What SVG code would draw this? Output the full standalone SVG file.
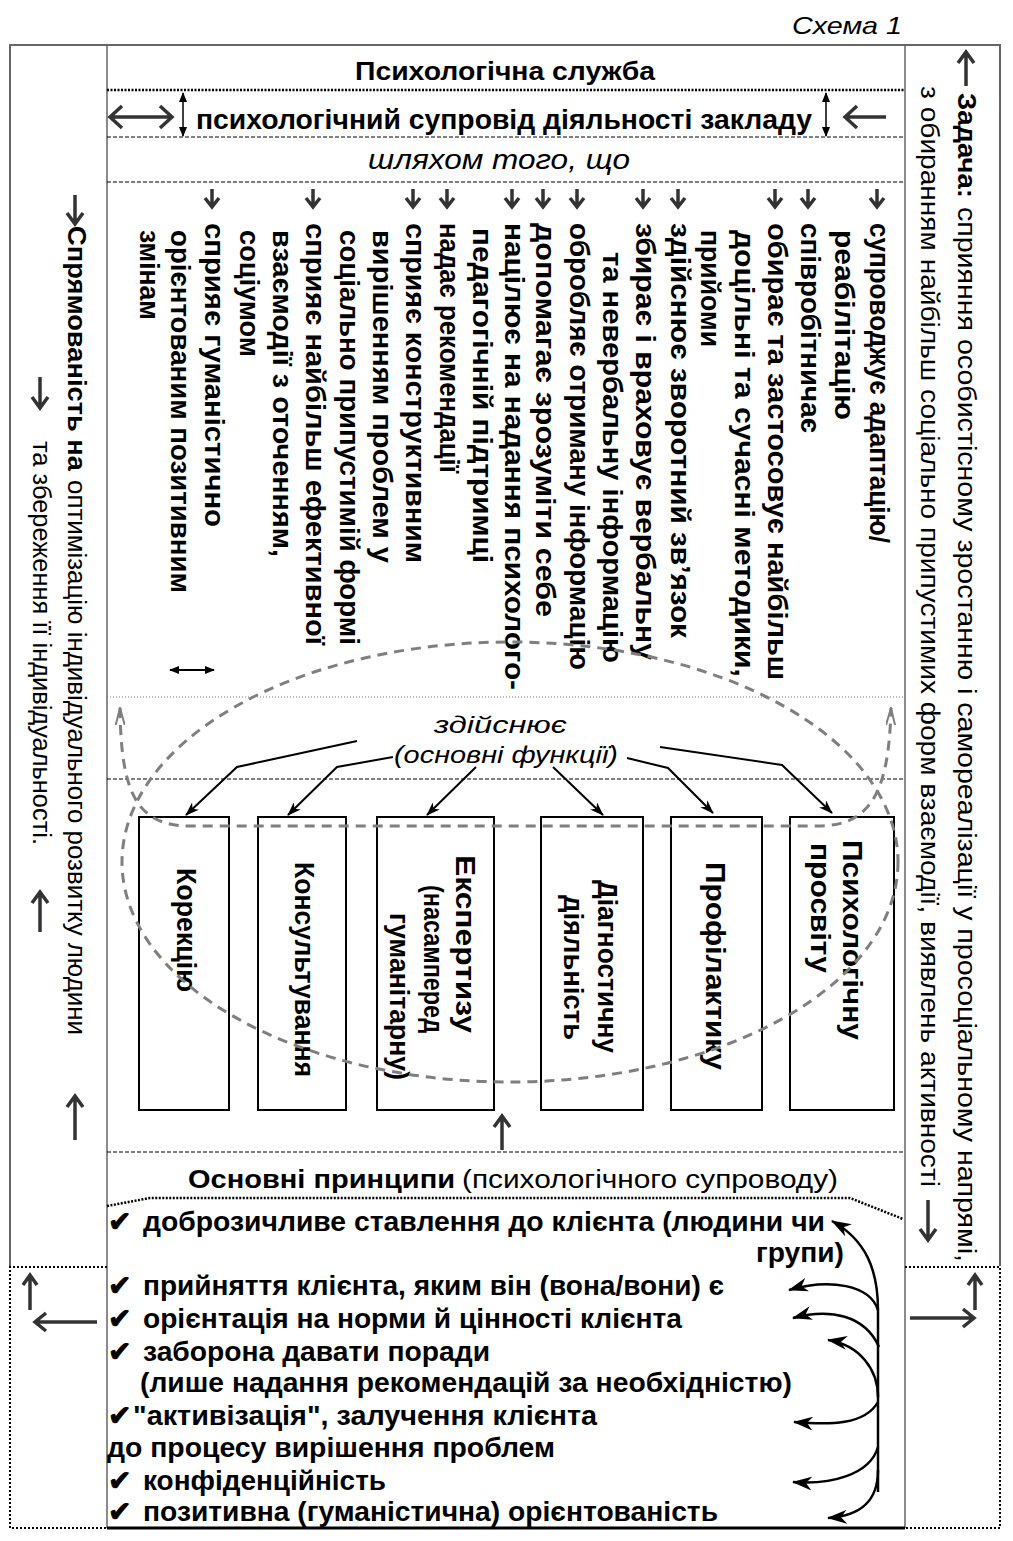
<svg xmlns="http://www.w3.org/2000/svg" width="1013" height="1541" viewBox="0 0 1013 1541">
<defs>
<style>
.t{font-family:"Liberation Sans",Arial,sans-serif;fill:#000}
.b{font-weight:bold}
.i{font-style:italic}
.ck{font-family:"DejaVu Sans",sans-serif;font-size:28px;fill:#000;stroke:#000;stroke-width:1}
.frame{fill:none;stroke:#666;stroke-width:2}
.vl{stroke:#666;stroke-width:1.5;fill:none}
.dash{stroke:#000;stroke-width:1;stroke-dasharray:4 2;fill:none}
.dot{stroke:#000;stroke-width:2.5;stroke-dasharray:2 1.5;fill:none}
.fdot{stroke:#777;stroke-width:1;stroke-dasharray:1 2;fill:none}
.bdot{stroke:#000;stroke-width:2;stroke-dasharray:2 2;fill:none}
.heavy{fill:none;stroke:#333;stroke-width:3.5;stroke-linejoin:miter}
.conn{fill:none;stroke:#000;stroke-width:2}
.thin{fill:none;stroke:#000;stroke-width:1.5}
.pa{fill:none;stroke:#000;stroke-width:2.5}
.gd{fill:none;stroke:#7f7f7f;stroke-width:3;stroke-dasharray:10 7}
.box{fill:#fff;stroke:#000;stroke-width:2}
</style>
<marker id="ah" viewBox="0 0 14 10" refX="13" refY="5" markerWidth="14" markerHeight="10" markerUnits="userSpaceOnUse" orient="auto">
<path d="M0,0 L14,5 L0,10 L4,5 z" fill="#000"/>
</marker>
<marker id="ahb" viewBox="0 0 20 14" refX="19" refY="7" markerWidth="20" markerHeight="14" markerUnits="userSpaceOnUse" orient="auto">
<path d="M0,0 L20,7 L0,14 L6,7 z" fill="#000"/>
</marker>
<marker id="ahd" viewBox="0 0 10 8" refX="9" refY="4" markerWidth="10" markerHeight="8" markerUnits="userSpaceOnUse" orient="auto-start-reverse">
<path d="M0,0 L10,4 L0,8 z" fill="#000"/>
</marker>
<marker id="ga" viewBox="0 0 18 10" refX="17" refY="5" markerWidth="18" markerHeight="10" markerUnits="userSpaceOnUse" orient="auto-start-reverse">
<path d="M0,0.5 L17,5 L0,9.5" fill="none" stroke="#7f7f7f" stroke-width="2"/>
</marker>
</defs>
<rect width="1013" height="1541" fill="#fff"/>

<g id="title">
<text class="t i" x="792" y="34" font-size="24" textLength="110" lengthAdjust="spacingAndGlyphs">Схема 1</text>
</g>

<g id="frame">
<path class="frame" d="M10,1266 L10,45 L1000,45 L1000,1266"/>
<path class="vl" d="M107,45 L107,1528 M905,45 L905,1528"/>
<path class="bdot" d="M107,1267 L10,1267 L10,1528 L107,1528"/>
<path class="bdot" d="M905,1267 L1000,1267 L1000,1528 L905,1528"/>
<path d="M107,1528 L905,1528" stroke="#000" stroke-width="3"/>
<path class="dot" d="M107,90 L905,90"/>
<path class="dash" d="M107,137 L905,137"/>
<path class="dash" d="M107,182 L905,182"/>
<path class="fdot" d="M107,697 L905,697"/>
<path class="dash" d="M107,779 L905,779"/>
<path class="dash" d="M107,1152 L905,1152"/>
<path class="dot" d="M107,1206 L150,1198 L850,1198 L903,1219"/>
</g>

<g id="service">
<text class="t b" x="355" y="80" font-size="26" textLength="300" lengthAdjust="spacingAndGlyphs">Психологічна служба</text>
</g>

<g id="support">
<text class="t b" x="196" y="129" font-size="28" textLength="616" lengthAdjust="spacingAndGlyphs">психологічний супровід діяльності закладу</text>
<path class="heavy" stroke="#444" stroke-width="4" d="M110,117 L172,117 M122,106 L110,117 L122,128 M160,106 L172,117 L160,128"/>
<path class="heavy" stroke="#444" stroke-width="4" d="M886,117 L845,117 M857,106 L845,117 L857,128"/>
<path class="thin" d="M183,93 L183,136" marker-start="url(#ahd)" marker-end="url(#ahd)"/>
<path class="thin" d="M826,93 L826,136" marker-start="url(#ahd)" marker-end="url(#ahd)"/>
</g>

<g id="by-means">
<text class="t i" x="368" y="169" font-size="27" textLength="262" lengthAdjust="spacingAndGlyphs">шляхом того, що</text>
</g>

<g id="activities">
<path class="heavy" d="M877,189 L877,207 M870,198 L877,207 L884,198 M808,189 L808,207 M801,198 L808,207 L815,198 M775,189 L775,207 M768,198 L775,207 L782,198 M678,189 L678,207 M671,198 L678,207 L685,198 M643,189 L643,207 M636,198 L643,207 L650,198 M577,189 L577,207 M570,198 L577,207 L584,198 M543,189 L543,207 M536,198 L543,207 L550,198 M512,189 L512,207 M505,198 L512,207 L519,198 M447,189 L447,207 M440,198 L447,207 L454,198 M413,189 L413,207 M406,198 L413,207 L420,198 M313,189 L313,207 M306,198 L313,207 L320,198 M212,189 L212,207 M205,198 L212,207 L219,198"/>
<g class="t b" font-size="27">
<text transform="translate(870,223) rotate(90)" textLength="320" lengthAdjust="spacingAndGlyphs">супроводжує адаптацію/</text>
<text transform="translate(835,230) rotate(90)" textLength="190" lengthAdjust="spacingAndGlyphs">реабілітацію</text>
<text transform="translate(801,223) rotate(90)" textLength="210" lengthAdjust="spacingAndGlyphs">співробітничає</text>
<text transform="translate(768,223) rotate(90)" textLength="457" lengthAdjust="spacingAndGlyphs">обирає та застосовує найбільш</text>
<text transform="translate(735,230) rotate(90)" textLength="447" lengthAdjust="spacingAndGlyphs">доцільні та сучасні методики,</text>
<text transform="translate(701,230) rotate(90)" textLength="117" lengthAdjust="spacingAndGlyphs">прийоми</text>
<text transform="translate(671,223) rotate(90)" textLength="415" lengthAdjust="spacingAndGlyphs">здійснює зворотний зв’язок</text>
<text transform="translate(636,223) rotate(90)" textLength="437" lengthAdjust="spacingAndGlyphs">збирає і враховує вербальну</text>
<text transform="translate(603,252) rotate(90)" textLength="411" lengthAdjust="spacingAndGlyphs">та невербальну інформацію</text>
<text transform="translate(570,223) rotate(90)" textLength="447" lengthAdjust="spacingAndGlyphs">обробляє отриману інформацію</text>
<text transform="translate(536,223) rotate(90)" textLength="394" lengthAdjust="spacingAndGlyphs">допомагає зрозуміти себе</text>
<text transform="translate(505,223) rotate(90)" textLength="467" lengthAdjust="spacingAndGlyphs">націлює на надання психолого-</text>
<text transform="translate(473,228) rotate(90)" textLength="335" lengthAdjust="spacingAndGlyphs">педагогічній підтримці</text>
<text transform="translate(440,223) rotate(90)" textLength="250" lengthAdjust="spacingAndGlyphs">надає рекомендації</text>
<text transform="translate(406,223) rotate(90)" textLength="340" lengthAdjust="spacingAndGlyphs">сприяє конструктивним</text>
<text transform="translate(373,230) rotate(90)" textLength="333" lengthAdjust="spacingAndGlyphs">вирішенням проблем у</text>
<text transform="translate(340,230) rotate(90)" textLength="415" lengthAdjust="spacingAndGlyphs">соціально припустимій формі</text>
<text transform="translate(306,223) rotate(90)" textLength="422" lengthAdjust="spacingAndGlyphs">сприяє найбільш ефективної</text>
<text transform="translate(273,230) rotate(90)" textLength="327" lengthAdjust="spacingAndGlyphs">взаємодії з оточенням,</text>
<text transform="translate(240,230) rotate(90)" textLength="127" lengthAdjust="spacingAndGlyphs">соціумом</text>
<text transform="translate(205,223) rotate(90)" textLength="304" lengthAdjust="spacingAndGlyphs">сприяє гуманістично</text>
<text transform="translate(171,230) rotate(90)" textLength="363" lengthAdjust="spacingAndGlyphs">орієнтованим позитивним</text>
<text transform="translate(140,230) rotate(90)" textLength="90" lengthAdjust="spacingAndGlyphs">змінам</text>
</g>
<path class="conn" d="M170,670 L214,670" marker-start="url(#ahd)" marker-end="url(#ahd)"/>
</g>

<g id="performs">
<text class="t i" x="434" y="733" font-size="24" textLength="133" lengthAdjust="spacingAndGlyphs">здійснює</text>
<text class="t i" x="394" y="763" font-size="24" textLength="224" lengthAdjust="spacingAndGlyphs">(основні функції)</text>
</g>

<g id="box-correction">
<rect class="box" x="139" y="817" width="90" height="293"/>
<text class="t b" font-size="27" transform="translate(177,868) rotate(90)" textLength="124" lengthAdjust="spacingAndGlyphs">Корекцію</text>
</g>
<g id="box-consulting">
<rect class="box" x="258" y="817" width="88" height="293"/>
<text class="t b" font-size="27" transform="translate(295,862) rotate(90)" textLength="215" lengthAdjust="spacingAndGlyphs">Консультування</text>
</g>
<g id="box-expertise">
<rect class="box" x="377" y="817" width="117" height="293"/>
<text class="t b" font-size="27" transform="translate(456,855) rotate(90)" textLength="178" lengthAdjust="spacingAndGlyphs">Експертизу</text>
<text class="t b" font-size="27" transform="translate(424,885) rotate(90)" textLength="148" lengthAdjust="spacingAndGlyphs">(насамперед</text>
<text class="t b" font-size="27" transform="translate(390,913) rotate(90)" textLength="167" lengthAdjust="spacingAndGlyphs">гуманітарну)</text>
</g>
<g id="box-diagnostics">
<rect class="box" x="541" y="817" width="102" height="293"/>
<text class="t b" font-size="27" transform="translate(598,880) rotate(90)" textLength="173" lengthAdjust="spacingAndGlyphs">Діагностичну</text>
<text class="t b" font-size="27" transform="translate(564,895) rotate(90)" textLength="145" lengthAdjust="spacingAndGlyphs">діяльність</text>
</g>
<g id="box-prevention">
<rect class="box" x="671" y="817" width="91" height="293"/>
<text class="t b" font-size="27" transform="translate(706,862) rotate(90)" textLength="208" lengthAdjust="spacingAndGlyphs">Профілактику</text>
</g>
<g id="box-education">
<rect class="box" x="790" y="817" width="104" height="293"/>
<text class="t b" font-size="27" transform="translate(843,840) rotate(90)" textLength="200" lengthAdjust="spacingAndGlyphs">Психологічну</text>
<text class="t b" font-size="27" transform="translate(811,843) rotate(90)" textLength="130" lengthAdjust="spacingAndGlyphs">просвіту</text>
</g>

<g id="connectors">
<path class="conn" d="M357,741 L237,767 L186,815" marker-end="url(#ah)"/>
<path class="conn" d="M393,757 L337,767 L288,815" marker-end="url(#ah)"/>
<path class="conn" d="M476,767 L427,815" marker-end="url(#ah)"/>
<path class="conn" d="M553,767 L603,815" marker-end="url(#ah)"/>
<path class="conn" d="M627,758 L668,768 L713,813" marker-end="url(#ah)"/>
<path class="conn" d="M660,747 L782,765 L832,813" marker-end="url(#ah)"/>
<ellipse class="gd" cx="510" cy="862" rx="388" ry="220"/>
<path class="gd" d="M120,708 C121,790 135,826 190,826 L818,826 C872,826 889,790 891,708" marker-start="url(#ga)" marker-end="url(#ga)"/>
<path class="heavy" d="M502,1150 L502,1116 M494,1127 L502,1116 L510,1127"/>
<path class="pa" stroke-width="3" d="M878,1492 L878,1310 C878,1270 866,1240 832,1221" marker-end="url(#ahb)"/>
<path class="pa" d="M878,1470 C878,1502 860,1516 828,1518" marker-end="url(#ahb)"/>
<path class="pa" d="M878,1310 C870,1285 830,1278 789,1290" marker-end="url(#ahb)"/>
<path class="pa" d="M879,1347 C865,1315 830,1308 793,1318" marker-end="url(#ahb)"/>
<path class="pa" d="M878,1397 C878,1370 860,1345 828,1340" marker-end="url(#ahb)"/>
<path class="pa" d="M878,1402 C865,1425 830,1425 794,1422" marker-end="url(#ahb)"/>
<path class="pa" d="M878,1447 C870,1475 830,1485 793,1482" marker-end="url(#ahb)"/>
</g>

<g id="principles">
<text class="t b" x="188" y="1188" font-size="25" textLength="267" lengthAdjust="spacingAndGlyphs">Основні принципи</text>
<text class="t" x="462" y="1188" font-size="25" textLength="376" lengthAdjust="spacingAndGlyphs">(психологічного супроводу)</text>
<g class="t b" font-size="27">
<text x="143" y="1231" textLength="682" lengthAdjust="spacingAndGlyphs">доброзичливе ставлення до клієнта (людини чи</text>
<text x="756" y="1262" textLength="88" lengthAdjust="spacingAndGlyphs">групи)</text>
<text x="143" y="1295" textLength="581" lengthAdjust="spacingAndGlyphs">прийняття клієнта, яким він (вона/вони) є</text>
<text x="143" y="1328" textLength="539" lengthAdjust="spacingAndGlyphs">орієнтація на норми й цінності клієнта</text>
<text x="143" y="1361" textLength="347" lengthAdjust="spacingAndGlyphs">заборона давати поради</text>
<text x="140" y="1392" textLength="652" lengthAdjust="spacingAndGlyphs">(лише надання рекомендацій за необхідністю)</text>
<text x="133" y="1425" textLength="464" lengthAdjust="spacingAndGlyphs">"активізація", залучення клієнта</text>
<text x="107" y="1457" textLength="448" lengthAdjust="spacingAndGlyphs">до процесу вирішення проблем</text>
<text x="143" y="1490" textLength="243" lengthAdjust="spacingAndGlyphs">конфіденційність</text>
<text x="143" y="1521" textLength="575" lengthAdjust="spacingAndGlyphs">позитивна (гуманістична) орієнтованість</text>
</g>
<text class="ck" x="108" y="1231">✔</text>
<text class="ck" x="108" y="1295">✔</text>
<text class="ck" x="108" y="1328">✔</text>
<text class="ck" x="108" y="1361">✔</text>
<text class="ck" x="108" y="1425">✔</text>
<text class="ck" x="108" y="1490">✔</text>
<text class="ck" x="108" y="1521">✔</text>
</g>

<g id="orientation">
<path class="heavy" d="M75,195 L75,224 M67,213 L75,224 L83,213"/>
<text class="t b" font-size="25" transform="translate(68,226) rotate(90)" textLength="245" lengthAdjust="spacingAndGlyphs">Спрямованість на</text>
<text class="t" font-size="25" transform="translate(68,480) rotate(90)" textLength="555" lengthAdjust="spacingAndGlyphs">оптимізацію індивідуального розвитку людини</text>
<path class="heavy" d="M75,1140 L75,1096 M67,1107 L75,1096 L83,1107"/>
<path class="heavy" d="M40,377 L40,408 M32,397 L40,408 L48,397"/>
<text class="t" font-size="25" transform="translate(33,441) rotate(90)" textLength="404" lengthAdjust="spacingAndGlyphs">та  збереження її індивідуальності.</text>
<path class="heavy" d="M40,932 L40,892 M32,903 L40,892 L48,903"/>
</g>

<g id="task">
<path class="heavy" d="M966,86 L966,52 M958,63 L966,52 L974,63"/>
<text class="t b" font-size="25" transform="translate(958,93) rotate(90)" textLength="105" lengthAdjust="spacingAndGlyphs">Задача:</text>
<text class="t" font-size="25" transform="translate(958,207) rotate(90)" textLength="1055" lengthAdjust="spacingAndGlyphs">сприяння особистісному зростанню і самореалізації у просоціальному напрямі,</text>
<text class="t" font-size="25" transform="translate(921,86) rotate(90)" textLength="1101" lengthAdjust="spacingAndGlyphs">з обиранням найбільш соціально припустимих форм взаємодії, виявлень активності</text>
<path class="heavy" d="M928,1200 L928,1240 M920,1229 L928,1240 L936,1229"/>
</g>

<g id="side-arrows">
<path class="heavy" d="M30,1310 L30,1275 M23,1285 L30,1275 L37,1285"/>
<path class="heavy" d="M97,1322 L35,1322 M46,1313 L35,1322 L46,1331"/>
<path class="heavy" d="M910,1318 L974,1318 M963,1309 L974,1318 L963,1327"/>
<path class="heavy" d="M975,1310 L975,1275 M968,1285 L975,1275 L982,1285"/>
</g>
</svg>
